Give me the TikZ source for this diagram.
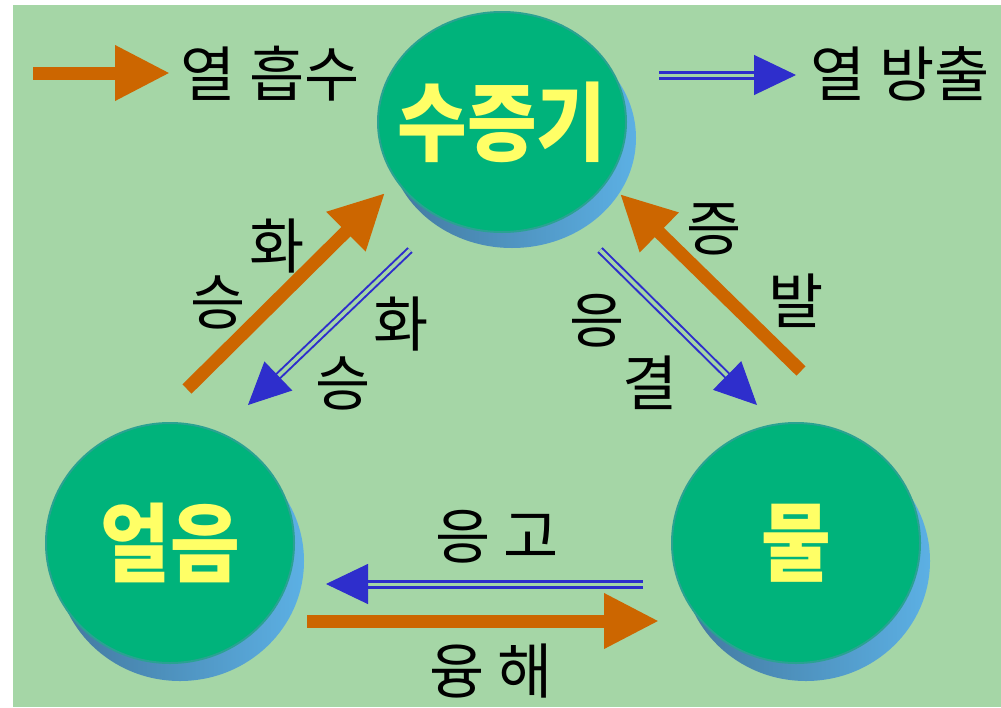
\documentclass[tikz,border=0pt]{standalone}
\usepackage{fontspec}
\newfontfamily\ko{Noto Sans CJK KR}
\usetikzlibrary{arrows.meta,calc,shapes.geometric}
\definecolor{bg}{HTML}{A5D6A6}
\definecolor{facec}{HTML}{00B37B}
\definecolor{faceedge}{HTML}{2AA292}
\definecolor{shdark}{HTML}{42789E}
\definecolor{shlight}{HTML}{5CB0E4}
\definecolor{orangec}{HTML}{CC6600}
\definecolor{bluec}{HTML}{2E2ECC}
\definecolor{yel}{HTML}{FFFF66}
\newcommand{\disktext}[1]{\scalebox{0.88}[1]{#1}}
\tikzset{
  face/.style={ellipse, fill=facec, draw=faceedge, line width=2pt, inner sep=0pt},
  oarrow/.style={draw=orangec, line width=13pt, -{Triangle[length=55pt,width=52pt]}},
  bdbl/.style={draw=bluec, double=bg, line width=3pt, double distance=3pt, shorten >=30pt},
  bdbldiag/.style={draw=bluec, double=bg, line width=2pt, double distance=3.5pt, shorten >=30pt},
  btip/.style={draw=bluec, line width=1pt, -{Triangle[length=42pt,width=40pt]}},
  lbl/.style={inner sep=0pt, font=\ko\fontsize{60}{60}\selectfont},
  dtext/.style={inner sep=0pt, text=yel, font=\ko\bfseries\fontsize{86}{86}\selectfont}
}
\begin{document}
\begin{tikzpicture}[x=1pt,y=-1pt]
\useasboundingbox (0,0) rectangle (1001,707);
\fill[white] (0,0) rectangle (1001,707);
\fill[bg] (13,5) rectangle (1001,707);

% disks: shadows
\shade[left color=shdark, right color=shlight] (512,138) ellipse [x radius=124pt, y radius=110pt];
\shade[left color=shdark, right color=shlight] (180,561) ellipse [x radius=124pt, y radius=120pt];
\shade[left color=shdark, right color=shlight] (806,561) ellipse [x radius=124pt, y radius=120pt];

% disks: faces
\node[face, minimum width=248pt, minimum height=220pt] (vapor) at (502,122) {};
\node[face, minimum width=248pt, minimum height=240pt] (ice) at (170,543) {};
\node[face, minimum width=248pt, minimum height=240pt] (water) at (796,543) {};

% disk texts
\node[dtext] (vaportxt) at (vapor) {\disktext{수증기}};
\node[dtext] (icetxt) at (ice) {\disktext{얼음}};
\node[dtext] (watertxt) at (water) {\disktext{물}};

% legend
\coordinate (l1a) at (33,73);
\coordinate (l1b) at (170,73);
\draw[oarrow] (l1a) -- (l1b);
\node[lbl] (absorb) at (270,74) {열 흡수};
\coordinate (l2a) at (659,75);
\coordinate (l2b) at (796,75);
\draw[bdbl] (l2a) -- (l2b);
\draw[btip] ($(l2b)!40pt!(l2a)$) -- (l2b);
\node[lbl] (release) at (900,74) {열 방출};

% ice -> vapor (sublimation), vapor -> ice
\coordinate (s1a) at (187,389);
\coordinate (s1b) at (385,193);
\draw[oarrow] (s1a) -- (s1b);
\coordinate (s2a) at (410,250);
\coordinate (s2b) at (248,405);
\draw[bdbldiag] (s2a) -- (s2b);
\draw[btip] ($(s2b)!40pt!(s2a)$) -- (s2b);
\node[lbl] (hwa1) at (277,246) {화};
\node[lbl] (seung1) at (218,302) {승};
\node[lbl] (hwa2) at (401,324) {화};
\node[lbl] (seung2) at (343,383) {승};

% water -> vapor (evaporation), vapor -> water (condensation)
\coordinate (e1a) at (801,371);
\coordinate (e1b) at (620,194);
\draw[oarrow] (e1a) -- (e1b);
\coordinate (c1a) at (600,250);
\coordinate (c1b) at (757,405);
\draw[bdbldiag] (c1a) -- (c1b);
\draw[btip] ($(c1b)!40pt!(c1a)$) -- (c1b);
\node[lbl] (jeung) at (714,229) {증};
\node[lbl] (bal) at (796,301) {발};
\node[lbl] (eung) at (597,321) {응};
\node[lbl] (gyeol) at (650,383) {결};

% water <-> ice
\coordinate (f1a) at (643,584);
\coordinate (f1b) at (326,584);
\draw[bdbl] (f1a) -- (f1b);
\draw[btip] ($(f1b)!40pt!(f1a)$) -- (f1b);
\node[lbl] (freeze) at (497,537) {응\hspace{12pt}고};
\coordinate (m1a) at (307,621);
\coordinate (m1b) at (659,621);
\draw[oarrow] (m1a) -- (m1b);
\node[lbl] (melt) at (491,671) {융\hspace{12pt}해};
\end{tikzpicture}
\end{document}
